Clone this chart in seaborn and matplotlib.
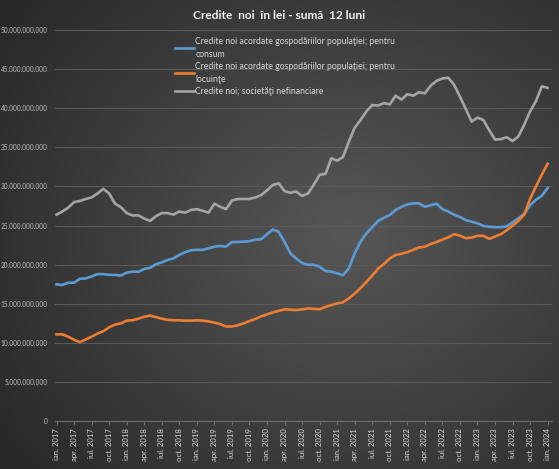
import matplotlib
matplotlib.use("Agg")
import matplotlib.pyplot as plt
import matplotlib.ticker as mticker
import numpy as np
import pandas as pd
import seaborn as sns

# luni: ian. 2017 ... ian. 2024 (85 puncte)
luni_ro = ["ian.", "feb.", "mar.", "apr.", "mai", "iun.",
           "iul.", "aug.", "sep.", "oct.", "nov.", "dec."]
ani = list(range(2017, 2025))
luni = [f"{m} {a}" for a in ani for m in luni_ro][:85]

# miliarde lei
consum = [
    17.5, 17.4, 17.7, 17.7, 18.2, 18.25, 18.5, 18.8, 18.8, 18.7, 18.7, 18.6,
    19.0, 19.1, 19.1, 19.45, 19.6, 20.05, 20.3, 20.6, 20.8, 21.25, 21.6, 21.85,
    21.9, 21.9, 22.1, 22.3, 22.4, 22.3, 22.9, 22.9, 22.95, 23.0, 23.2, 23.25,
    23.9, 24.5, 24.2, 22.9, 21.45, 20.8, 20.2, 20.0, 20.0, 19.75, 19.2, 19.1,
    18.9, 18.65, 19.55, 21.45, 22.95, 24.0, 24.8, 25.6, 26.0, 26.35, 27.0, 27.4,
    27.7, 27.85, 27.85, 27.4, 27.6, 27.8, 27.1, 26.8, 26.4, 26.1, 25.7, 25.5,
    25.3, 24.95, 24.85, 24.8, 24.8, 24.9, 25.4, 25.95, 26.5, 27.6, 28.3, 28.8,
    29.8,
]
locuinte = [
    11.1, 11.1, 10.8, 10.4, 10.1, 10.45, 10.8, 11.2, 11.5, 12.0, 12.35, 12.5,
    12.85, 12.9, 13.1, 13.35, 13.5, 13.3, 13.1, 12.95, 12.9, 12.9, 12.85, 12.85,
    12.9, 12.85, 12.75, 12.6, 12.4, 12.1, 12.1, 12.25, 12.5, 12.8, 13.05, 13.4,
    13.65, 13.9, 14.1, 14.3, 14.25, 14.2, 14.3, 14.4, 14.35, 14.3, 14.6, 14.85,
    15.05, 15.2, 15.7, 16.3, 17.0, 17.8, 18.6, 19.5, 20.1, 20.8, 21.25, 21.4,
    21.6, 21.9, 22.2, 22.3, 22.65, 22.9, 23.2, 23.5, 23.9, 23.7, 23.4, 23.45,
    23.7, 23.7, 23.3, 23.6, 23.9, 24.4, 25.0, 25.6, 26.4, 28.4, 30.0, 31.5,
    32.9,
]
societati = [
    26.4, 26.8, 27.3, 28.0, 28.15, 28.4, 28.6, 29.1, 29.7, 29.1, 27.8, 27.35,
    26.6, 26.3, 26.3, 25.9, 25.6, 26.2, 26.6, 26.6, 26.4, 26.8, 26.65, 27.0,
    27.1, 26.9, 26.65, 27.8, 27.4, 27.1, 28.2, 28.4, 28.4, 28.4, 28.6, 28.9,
    29.5, 30.2, 30.4, 29.4, 29.2, 29.35, 28.8, 29.1, 30.2, 31.5, 31.6, 33.6,
    33.3, 33.75, 35.75, 37.5, 38.5, 39.6, 40.4, 40.35, 40.65, 40.5, 41.6, 41.1,
    41.8, 41.6, 42.05, 41.9, 42.9, 43.5, 43.8, 43.9, 43.0, 41.5, 39.9, 38.3,
    38.8, 38.5, 37.2, 36.0, 36.05, 36.3, 35.8, 36.4, 37.9, 39.6, 40.9, 42.8,
    42.6,
]

serii = [
    "Credite noi acordate gospodăriilor populaţiei; pentru\nconsum",
    "Credite noi acordate gospodăriilor populaţiei; pentru\nlocuinţe",
    "Credite noi; societăţi nefinanciare",
]
culori = ["#5b9bd5", "#ed7d31", "#a5a5a5"]

df = pd.DataFrame({
    "x": list(range(len(luni))) * 3,
    "valoare": np.array(consum + locuinte + societati) * 1e9,
    "serie": [serii[0]] * len(luni) + [serii[1]] * len(luni) + [serii[2]] * len(luni),
})

plt.rcParams["font.family"] = ["Lato", "DejaVu Sans"]

fig = plt.figure(figsize=(5.59, 4.69), dpi=100)

# fundal cu gradient radial (stil Excel)
bg = fig.add_axes([0, 0, 1, 1], zorder=0)
yy, xx = np.mgrid[0:1:300j, 0:1:360j]
r = np.sqrt(((xx - 0.62) / 0.75) ** 2 + ((yy - 0.5) / 0.8) ** 2)
shade = 0.34 - 0.18 * np.clip(r, 0, 1)
bg.imshow(np.dstack([shade] * 3), aspect="auto", extent=[0, 1, 0, 1])
bg.axis("off")

ax = fig.add_axes([0.098, 0.102, 0.89, 0.834], zorder=1)
ax.set_facecolor("none")

sns.lineplot(data=df, x="x", y="valoare", hue="serie", hue_order=serii,
             palette=culori, linewidth=1.9, ax=ax, legend=True)

ax.set_ylim(0, 50e9)
ax.set_xlim(-0.3, 84.8)
ax.yaxis.set_major_locator(mticker.MultipleLocator(5e9))
ax.yaxis.set_major_formatter(
    mticker.FuncFormatter(lambda v, p: "0" if v == 0 else f"{v:,.0f}".replace(",", "."))
)
ax.grid(axis="y", color="#5a5a5a", linewidth=0.8)
ax.set_axisbelow(True)

tick_pos = list(range(0, len(luni), 3))
ax.set_xticks(tick_pos)
ax.set_xticklabels([luni[i] for i in tick_pos], rotation=90, fontsize=5.6, color="#d9d9d9")
ax.tick_params(axis="y", labelsize=4.7, labelcolor="#bfbfbf", length=0, pad=5)
ax.tick_params(axis="x", length=3, color="#6e6e6e", pad=2)
for s in ["top", "right", "left"]:
    ax.spines[s].set_visible(False)
ax.spines["bottom"].set_color("#6e6e6e")
ax.set_xlabel("")
ax.set_ylabel("")

leg = ax.legend(loc="upper left", bbox_to_anchor=(0.235, 0.99), frameon=False,
                fontsize=6.2, handlelength=2.2, handletextpad=0.15, labelspacing=0.45,
                borderaxespad=0)
for t in leg.get_texts():
    t.set_color("#d9d9d9")
    t.set_linespacing(1.45)
for h in leg.get_lines():
    h.set_linewidth(1.9)

fig.text(0.5, 0.968, "Credite  noi  în lei - sumă  12 luni", ha="center", va="center",
         fontsize=8.6, fontweight="bold", color="#f2f2f2")

fig.savefig("out.png", dpi=100)
